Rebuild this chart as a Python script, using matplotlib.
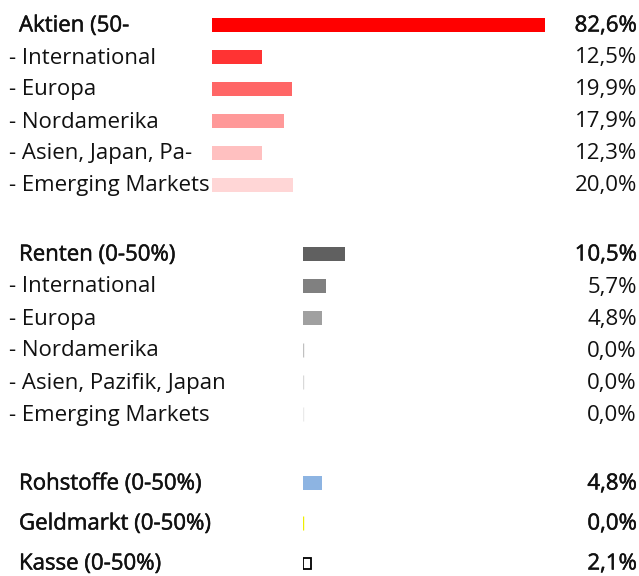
import matplotlib.pyplot as plt
import matplotlib.patheffects as pe

# data
aktien_labels = ["Aktien (50-", "- International", "- Europa", "- Nordamerika",
                 "- Asien, Japan, Pa-", "- Emerging Markets"]
aktien_values = [82.6, 12.5, 19.9, 17.9, 12.3, 20.0]
aktien_colors = ["#FF0000", "#FF3333", "#FF6666", "#FF9999", "#FFC0C0", "#FFD6D6"]

renten_labels = ["Renten (0-50%)", "- International", "- Europa", "- Nordamerika",
                 "- Asien, Pazifik, Japan", "- Emerging Markets"]
renten_values = [10.5, 5.7, 4.8, 0.0, 0.0, 0.0]
renten_colors = ["#606060", "#808080", "#A0A0A0", "#C0C0C0", "#D9D9D9", "#EAEAEA"]

other_labels = ["Rohstoffe (0-50%)", "Geldmarkt (0-50%)", "Kasse (0-50%)"]
other_values = [4.8, 0.0, 2.1]
other_colors = ["#8DB4E2", "#FFFF00", "#FFFFFF"]
other_edges = ["#8DB4E2", "#EEEE00", "#000000"]

W, H = 639, 576
px_per_pct = 4.03

fig = plt.figure(figsize=(W / 100, H / 100), dpi=100)
plt.rcParams['font.family'] = ['Open Sans', 'DejaVu Sans']

ax_txt = fig.add_axes([0, 0, 1, 1])
ax_txt.set_xlim(0, W)
ax_txt.set_ylim(H, 0)
ax_txt.axis('off')


def bar_axes(x0):
    ax = fig.add_axes([x0 / W, 0, (W - x0) / W, 1])
    ax.set_xlim(0, (W - x0) / px_per_pct)
    ax.set_ylim(H, 0)
    ax.axis('off')
    return ax


ax_a = bar_axes(212)
ax_b = bar_axes(303)

fs = 16
bold_fx = [pe.withStroke(linewidth=0.35, foreground='#111111')]


def fmt(v):
    return f"{v:.1f}%".replace(".", ",")


def draw_rows(ax, labels, values, colors, ys, edges=None, heights=None):
    for i, (lab, val, col, y) in enumerate(zip(labels, values, colors, ys)):
        header = not lab.startswith("-")
        ec = edges[i] if edges else col
        h = heights[i] if heights else 14
        if val == 0:
            ax.vlines(val, y - h / 2, y + h / 2, color=ec, linewidth=1.0)
        else:
            lw = 1.3 if ec != col else 0
            ax.barh(y, val, height=h, color=col, edgecolor=ec, linewidth=lw, left=0)
        fx = bold_fx if header else None
        ax_txt.text(19 if header else 9, y + 1, lab, fontsize=fs,
                    va='center', ha='left', color='#111111', path_effects=fx)
        ax_txt.text(637, y + 1, fmt(val), fontsize=fs,
                    va='center', ha='right', color='#111111', path_effects=fx)


ys_a = [25 + 32 * i for i in range(6)]
ys_b = [254 + 32 * i for i in range(6)]
ys_c = [483, 523, 563]

draw_rows(ax_a, aktien_labels, aktien_values, aktien_colors, ys_a)
draw_rows(ax_b, renten_labels, renten_values, renten_colors, ys_b)
draw_rows(ax_b, other_labels, other_values, other_colors, ys_c,
          edges=other_edges, heights=[14, 14, 11])

fig.savefig("out.png", dpi=100)
